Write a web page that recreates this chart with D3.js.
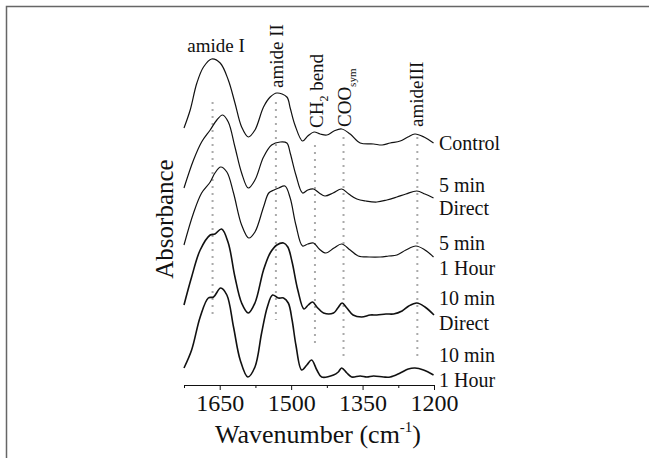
<!DOCTYPE html>
<html>
<head>
<meta charset="utf-8">
<script src="https://cdn.jsdelivr.net/npm/d3@7"></script>
<style>
  body { margin: 0; background: #fff; }
  svg text { font-family: "Liberation Serif", "Times New Roman", serif; fill: #111; }
</style>
</head>
<body>
<svg width="649" height="458"></svg>
<script>
// spectra: [wavenumber, absorbance (stacked, arbitrary units)]
var control = [[1725,2.57],[1712,2.75],[1698,3.02],[1684,3.18],[1667,3.26],[1649,3.22],[1632,3.05],[1618,2.82],[1604,2.58],[1590,2.48],[1576,2.55],[1558,2.78],[1544,2.88],[1530,2.92],[1509,2.88],[1502,2.77],[1492,2.60],[1476,2.44],[1465,2.49],[1452,2.53],[1439,2.51],[1425,2.50],[1410,2.54],[1394,2.56],[1376,2.51],[1355,2.42],[1327,2.41],[1309,2.40],[1292,2.42],[1271,2.44],[1255,2.48],[1240,2.51],[1221,2.48],[1201,2.42]];
var direct5 = [[1725,1.97],[1705,2.25],[1688,2.43],[1670,2.55],[1656,2.65],[1644,2.70],[1632,2.63],[1618,2.38],[1604,2.12],[1590,1.97],[1576,2.05],[1558,2.28],[1541,2.40],[1523,2.43],[1509,2.42],[1502,2.32],[1490,2.10],[1476,1.92],[1465,1.95],[1453,1.96],[1441,1.92],[1429,1.89],[1412,1.92],[1394,1.96],[1379,1.91],[1362,1.86],[1343,1.84],[1320,1.83],[1299,1.85],[1278,1.88],[1259,1.91],[1236,1.94],[1219,1.91],[1201,1.87]];
var hour5 = [[1725,1.40],[1705,1.72],[1688,1.92],[1670,2.03],[1660,2.12],[1648,2.18],[1635,2.13],[1621,1.92],[1604,1.60],[1589,1.47],[1576,1.53],[1558,1.78],[1547,1.92],[1536,1.95],[1526,1.97],[1513,1.99],[1502,1.87],[1490,1.60],[1476,1.39],[1465,1.41],[1453,1.42],[1441,1.36],[1427,1.32],[1410,1.37],[1394,1.41],[1376,1.35],[1359,1.29],[1336,1.28],[1313,1.28],[1295,1.29],[1278,1.30],[1259,1.35],[1238,1.39],[1219,1.35],[1201,1.28]];
var direct10 = [[1725,0.80],[1709,1.08],[1691,1.35],[1670,1.50],[1660,1.51],[1646,1.56],[1632,1.42],[1618,1.08],[1604,0.82],[1590,0.72],[1576,0.82],[1558,1.15],[1544,1.32],[1530,1.40],[1516,1.42],[1507,1.38],[1498,1.23],[1486,0.95],[1473,0.76],[1464,0.80],[1455,0.83],[1446,0.78],[1432,0.72],[1411,0.72],[1402,0.77],[1393,0.82],[1383,0.77],[1370,0.70],[1352,0.68],[1334,0.70],[1320,0.70],[1301,0.71],[1285,0.71],[1267,0.74],[1253,0.79],[1236,0.82],[1219,0.78],[1200,0.70]];
var hour10 = [[1725,0.17],[1709,0.35],[1691,0.68],[1674,0.87],[1663,0.88],[1648,0.97],[1635,0.90],[1621,0.58],[1607,0.25],[1591,0.08],[1576,0.18],[1562,0.52],[1550,0.78],[1539,0.90],[1527,0.87],[1516,0.87],[1506,0.82],[1498,0.65],[1490,0.40],[1478,0.15],[1467,0.20],[1457,0.25],[1446,0.15],[1436,0.08],[1411,0.10],[1401,0.13],[1394,0.17],[1383,0.12],[1373,0.08],[1355,0.09],[1341,0.08],[1327,0.09],[1306,0.08],[1292,0.08],[1271,0.12],[1254,0.16],[1240,0.17],[1222,0.15],[1201,0.10]];

var spectra = [control, direct5, hour5, direct10, hour10];
var sampleLabels = [["Control"], ["5 min", "Direct"], ["5 min", "1 Hour"], ["10 min", "Direct"], ["10 min", "1 Hour"]];

// band markers
var bandNames = ["amide I", "amide II", "CH2 bend", "COO sym", "amideIII"];
var bandPos = [1665, 1532, 1450, 1390, 1235];
var bandTop = [2.83, 2.83, 2.40, 2.48, 2.48];
var bandBottom = [0.68, 0.65, 0.37, 0.28, 0.28];

var majorTicks = [1650, 1500, 1350, 1200];
var minorTicks = [1725, 1575, 1425, 1275];

var svg = d3.select("svg");

// frame
svg.append("path")
    .attr("d", "M6.5,458 L6.5,6.5 L649,6.5")
    .attr("fill", "none")
    .attr("stroke", "#666")
    .attr("stroke-width", 1.5);

var x = d3.scaleLinear().domain([1725, 1200]).range([184, 434]);
var y = d3.scaleLinear().domain([0, 3.3]).range([385, 55]);

// dotted band lines
svg.selectAll(".band")
    .data(bandPos)
    .enter().append("line")
    .attr("x1", function(d) { return x(d); })
    .attr("x2", function(d) { return x(d); })
    .attr("y1", function(d, i) { return y(bandTop[i]); })
    .attr("y2", function(d, i) { return y(bandBottom[i]); })
    .attr("stroke", "#aaa")
    .attr("stroke-width", 2)
    .attr("stroke-dasharray", "2,5");

var line = d3.line()
    .x(function(d) { return x(d[0]); })
    .y(function(d) { return y(d[1]); })
    .curve(d3.curveCatmullRom.alpha(0.5));

svg.selectAll(".spec")
    .data(spectra)
    .enter().append("path")
    .attr("d", line)
    .attr("fill", "none")
    .attr("stroke", "#111")
    .attr("stroke-width", function(d, i) { return i > 2 ? 1.6 : 1.2; });

// axis
var gx = svg.append("g").attr("transform", "translate(0,385)");
gx.call(d3.axisBottom(x).tickValues(majorTicks).tickSize(5).tickSizeOuter(0).tickFormat(d3.format("d")));
gx.append("g").call(d3.axisBottom(x).tickValues(minorTicks).tickSize(3).tickSizeOuter(0).tickFormat(""));
gx.selectAll(".domain").attr("stroke", "#111");
gx.selectAll("line").attr("stroke", "#111");
gx.selectAll("text")
    .attr("font-family", "Liberation Serif")
    .attr("font-size", 24)
    .attr("fill", "#111")
    .attr("y", 9)
    .attr("dy", "0.71em");

var xt = svg.append("text")
    .attr("x", 318).attr("y", 443)
    .attr("text-anchor", "middle")
    .attr("font-size", 26);
xt.append("tspan").text("Wavenumber (cm");
xt.append("tspan").attr("font-size", 15).attr("dy", -11).text("-1");
xt.append("tspan").attr("dy", 11).text(")");

svg.append("text")
    .attr("transform", "translate(173,219) rotate(-90)")
    .attr("text-anchor", "middle")
    .attr("font-size", 25)
    .text("Absorbance");

// band labels
svg.append("text")
    .attr("x", 216).attr("y", 52)
    .attr("text-anchor", "middle")
    .attr("font-size", 19)
    .text(bandNames[0]);

svg.append("text")
    .attr("transform", "translate(283,88) rotate(-90)")
    .attr("font-size", 19)
    .text(bandNames[1]);

var ch = svg.append("text")
    .attr("transform", "translate(323,128) rotate(-90)")
    .attr("font-size", 19);
ch.append("tspan").text("CH");
ch.append("tspan").attr("font-size", 12).attr("dy", 5).text("2");
ch.append("tspan").attr("dy", -5).text(" bend");

var coo = svg.append("text")
    .attr("transform", "translate(351,127) rotate(-90)")
    .attr("font-size", 19);
coo.append("tspan").text("COO");
coo.append("tspan").attr("font-size", 11).attr("dy", 5).text("sym");

svg.append("text")
    .attr("transform", "translate(423,127) rotate(-90)")
    .attr("font-size", 19)
    .text(bandNames[4]);

// sample labels
var labelY = [[150], [192, 215], [250, 275], [305, 330], [362, 387]];
sampleLabels.forEach(function(lines, i) {
    lines.forEach(function(t, j) {
        svg.append("text")
            .attr("x", 439).attr("y", labelY[i][j])
            .attr("font-size", 20)
            .text(t);
    });
});
</script>
</body>
</html>
